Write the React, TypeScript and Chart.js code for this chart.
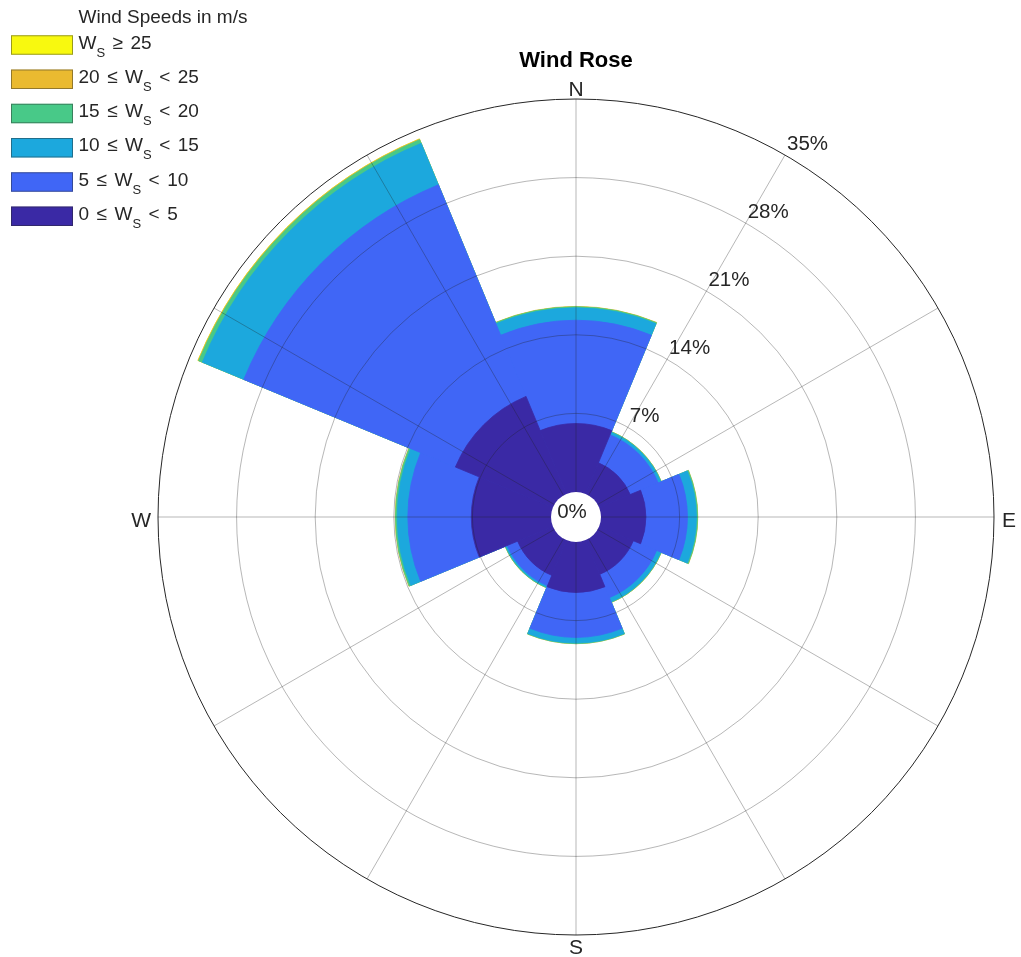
import React, { useEffect, useRef } from "react";
import { Chart, registerables } from "chart.js";

Chart.register(...registerables);

// ---- data (percent of time, per direction sector) ----
const directions = ["N", "NE", "E", "SE", "S", "SW", "W", "NW"];
const speedEdges = [0, 5, 10, 15, 20, 25];
const freq0to5 = [6.1, 3.0, 4.0, 3.3, 4.5, 3.4, 7.1, 9.4];
const freq5to10 = [9.2, 2.7, 3.7, 2.25, 4.0, 1.0, 5.65, 20.4];
const freq10to15 = [1.1, 0.25, 0.8, 0.4, 0.5, 0.15, 0.95, 4.0];
const freq15to20 = [0.1, 0.05, 0.1, 0.05, 0.05, 0.05, 0.15, 0.35];
const freq20to25 = [0.03, 0.01, 0.02, 0.01, 0.01, 0.01, 0.03, 0.06];
const freqAbove25 = [0, 0, 0, 0, 0, 0, 0, 0.01];
const rTicks = [0, 7, 14, 21, 28, 35];
const cardinalLabels = ["N", "E", "S", "W"];

const binColors = ["#3A29A5", "#4066F6", "#1CA8DD", "#48C988", "#EABA30", "#F8F90F"];
const FONT = '"Liberation Sans", Arial, Helvetica, sans-serif';
const TEXT = "#262626";
const GRID = "rgba(30,30,30,0.32)";

const bins = [freq0to5, freq5to10, freq10to15, freq15to20, freq20to25, freqAbove25];
const cumulative = bins.map((_, k) =>
  directions.map((__, i) => bins.slice(0, k + 1).reduce((s, b) => s + b[i], 0))
);

// radial min so that 0% sits at the edge of the centre hole
const HOLE = 25;
const RADIUS = 418;
const rMax = rTicks[rTicks.length - 1];
const rMin = -(HOLE * rMax) / (RADIUS - HOLE);

function drawLegendRow(c: CanvasRenderingContext2D, k: number, cy: number) {
  const main = `19px ${FONT}`;
  const sub = `13px ${FONT}`;
  const gap = 7.5;
  const base = cy + 3.5;
  let x = 78.5;
  const put = (t: string, font: string, dy = 0) => {
    c.font = font;
    c.fillText(t, x, base + dy);
    x += c.measureText(t).width;
  };
  const lower = speedEdges[k];
  const upper = speedEdges[k + 1];
  if (upper === undefined) {
    put("W", main);
    put("S", sub, 8);
    x += gap;
    put("\u2265", main);
    x += gap;
    put(String(lower), main);
  } else {
    put(String(lower), main);
    x += gap;
    put("\u2264", main);
    x += gap;
    put("W", main);
    put("S", sub, 8);
    x += gap;
    put("<", main);
    x += gap;
    put(String(upper), main);
  }
}

const decor = {
  id: "roseDecor",
  afterDatasetsDraw(chart: any) {
    const s = chart.scales.r;
    const c = chart.ctx as CanvasRenderingContext2D;
    const r0 = s.getDistanceFromCenterForValue(0);
    c.save();
    c.beginPath();
    c.arc(s.xCenter, s.yCenter, r0, 0, Math.PI * 2);
    c.fillStyle = "#ffffff";
    c.fill();
    c.restore();
  },
  afterDraw(chart: any) {
    const s = chart.scales.r;
    const c = chart.ctx as CanvasRenderingContext2D;
    const cx = s.xCenter;
    const cy = s.yCenter;
    const r0 = s.getDistanceFromCenterForValue(0);
    const R = s.getDistanceFromCenterForValue(rMax);
    c.save();
    // rings drawn over the bars
    c.lineWidth = 1;
    rTicks.slice(1).forEach((v, i, arr) => {
      const r = s.getDistanceFromCenterForValue(v);
      c.beginPath();
      c.arc(cx, cy, r, 0, Math.PI * 2);
      c.strokeStyle = i === arr.length - 1 ? TEXT : GRID;
      c.stroke();
    });
    // spokes every 30 degrees
    c.strokeStyle = GRID;
    for (let a = 0; a < 360; a += 30) {
      const t = (a * Math.PI) / 180;
      c.beginPath();
      c.moveTo(cx + r0 * Math.sin(t), cy - r0 * Math.cos(t));
      c.lineTo(cx + R * Math.sin(t), cy - R * Math.cos(t));
      c.stroke();
    }
    // radial tick labels along the 30 degree spoke
    c.fillStyle = TEXT;
    c.font = `20.5px ${FONT}`;
    c.textAlign = "left";
    c.textBaseline = "alphabetic";
    const t30 = Math.PI / 6;
    rTicks.slice(1).forEach((v) => {
      const r = s.getDistanceFromCenterForValue(v);
      c.fillText(`${v}%`, cx + r * Math.sin(t30) + 2, cy - r * Math.cos(t30) - 5);
    });
    c.textAlign = "center";
    c.fillText(`${rTicks[0]}%`, cx - 4, cy + 0.5);
    // cardinal labels
    c.font = `21px ${FONT}`;
    c.textAlign = "center";
    c.fillText(cardinalLabels[0], cx, cy - R - 3);
    c.fillText(cardinalLabels[2], cx, cy + R + 19);
    c.textAlign = "left";
    c.fillText(cardinalLabels[1], cx + R + 8, cy + 9.5);
    c.textAlign = "right";
    c.fillText(cardinalLabels[3], cx - R - 7, cy + 9.5);
    // title
    c.fillStyle = "#000000";
    c.font = `bold 22px ${FONT}`;
    c.textAlign = "center";
    c.fillText("Wind Rose", 576, 66.5);
    // legend
    c.textAlign = "left";
    c.fillStyle = TEXT;
    c.font = `19px ${FONT}`;
    c.fillText("Wind Speeds in m/s", 78.5, 22.7);
    for (let row = 0; row < binColors.length; row++) {
      const k = binColors.length - 1 - row;
      const yc = 45 + row * 34.25;
      c.fillStyle = binColors[k];
      c.fillRect(11, yc - 9.75, 62, 19.5);
      c.strokeStyle = "rgba(40,40,40,0.45)";
      c.lineWidth = 1;
      c.strokeRect(11.5, yc - 9.25, 61, 18.5);
      c.fillStyle = TEXT;
      drawLegendRow(c, k, yc);
    }
    c.restore();
  },
};

export default function App() {
  const ref = useRef<HTMLCanvasElement | null>(null);
  useEffect(() => {
    document.body.style.margin = "0";
    const canvas = ref.current;
    if (!canvas) return;
    const chart = new Chart(canvas, {
      type: "polarArea",
      data: {
        labels: directions,
        datasets: cumulative.map((data, k) => ({
          label: `${speedEdges[k]}`,
          data,
          backgroundColor: binColors[k],
          borderColor: binColors[k],
          borderWidth: (ctx: any) => (bins[k][ctx.dataIndex] > 0 ? 0.8 : 0),
        })),
      },
      options: {
        responsive: false,
        animation: false,
        events: [],
        layout: { padding: { left: 158, right: 27, top: 99, bottom: 22 } },
        plugins: {
          legend: { display: false },
          tooltip: { enabled: false },
          title: { display: false },
        },
        scales: {
          r: {
            type: "radialLinear",
            min: rMin,
            max: rMax,
            startAngle: -22.5,
            ticks: { display: false },
            afterBuildTicks: (scale: any) => {
              scale.ticks = rTicks.map((v) => ({ value: v }));
            },
            grid: { display: false },
            angleLines: { display: false },
            pointLabels: { display: false },
          },
        },
      } as any,
      plugins: [decor],
    });
    return () => chart.destroy();
  }, []);
  return (
    <div style={{ width: 1021, height: 957, position: "relative" }}>
      <canvas ref={ref} width={1021} height={957} style={{ display: "block" }} />
    </div>
  );
}
